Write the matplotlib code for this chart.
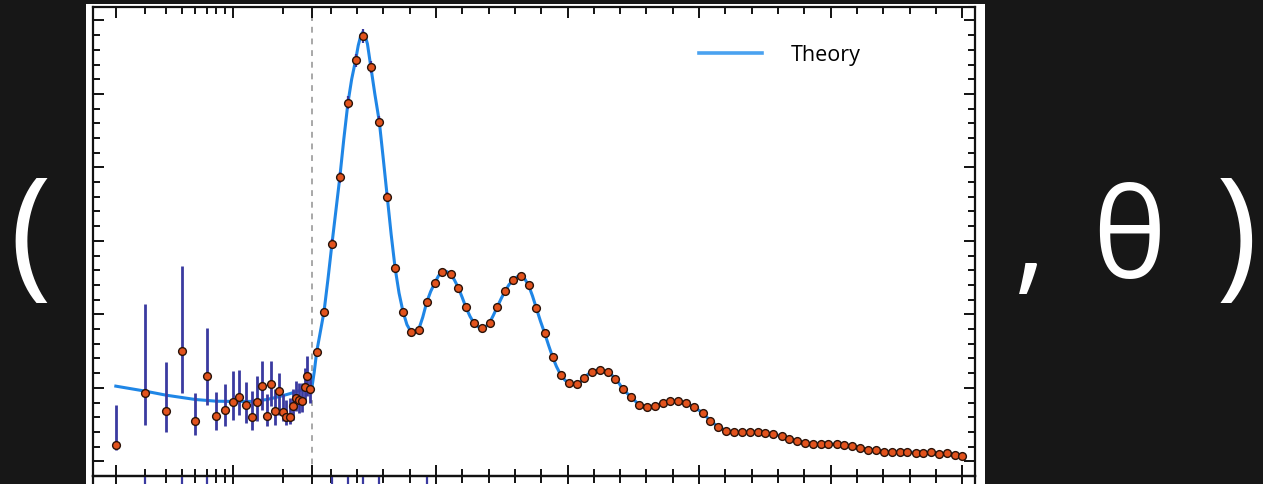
import numpy as np
import matplotlib
matplotlib.use("Agg")
import matplotlib.pyplot as plt
from matplotlib.patches import Rectangle

# ---------------- data ----------------
low_l = [2, 3, 4, 5, 6, 7, 8, 9, 10, 11, 12, 13, 14, 15, 16, 17, 18, 19, 20,
         21, 22, 23, 24, 25, 26, 27, 28, 29]
low_D = [228, 933, 691, 1500, 555, 1155, 619, 701, 810, 873, 764, 600, 810,
         1023, 623, 1046, 682, 955, 669, 605, 605, 750, 855, 828, 818, 1009,
         1159, 987]
low_err_lo = [70, 433, 295, 567, 191, 382, 187, 214, 250, 236, 240, 168, 264,
              318, 145, 296, 182, 318, 123, 105, 100, 182, 173, 168, 150, 213,
              273, 191]
low_err_hi = [532, 1213, 664, 1159, 378, 664, 322, 345, 417, 364, 313, 355,
              349, 341, 287, 318, 296, 250, 241, 236, 259, 228, 236, 241, 251,
              264, 273, 218]

high_l = [47, 75, 105, 135, 166, 195, 224, 253, 285, 315, 345, 375, 405, 434,
          465, 495, 525, 556, 585, 614, 644, 674, 704, 733, 763, 794, 823, 852,
          882, 913, 943, 974, 1005, 1035, 1063, 1092, 1123, 1153, 1182, 1211,
          1242, 1272, 1302, 1332, 1361, 1391, 1421, 1452, 1482, 1513, 1542,
          1572, 1603, 1632, 1662, 1693, 1722, 1752, 1781, 1813, 1842, 1873,
          1902, 1932, 1962, 1991, 2022, 2052, 2082, 2112, 2143, 2172, 2202,
          2232, 2262, 2291, 2322, 2351, 2381, 2412, 2442, 2471, 2497]
high_D = [1487, 2037, 2955, 3864, 4882, 5460, 5787, 5369, 4623, 3600, 2632,
          2037, 1759, 1787, 2164, 2423, 2578, 2546, 2364, 2096, 1887, 1814,
          1887, 2100, 2318, 2464, 2523, 2396, 2082, 1746, 1424, 1178, 1064,
          1050, 1137, 1219, 1241, 1214, 1124, 978, 873, 769, 742, 750, 796,
          818, 818, 787, 737, 660, 555, 469, 419, 396, 396, 400, 400, 387,
          373, 341, 305, 273, 251, 241, 236, 236, 232, 223, 205, 182, 160,
          150, 132, 127, 127, 127, 114, 114, 132, 95, 114, 82, 68]
high_err = [45, 55, 65, 75, 85, 90, 95, 85, 75, 60, 45, 40, 35, 35, 35, 35,
            35, 35, 35, 30, 30, 30, 30, 30, 30, 30, 30, 30, 30, 30, 25, 25,
            25, 25, 25, 25, 25, 25, 25, 25, 20, 20, 20, 20, 20, 20, 20, 20,
            20, 20, 20, 20, 20, 20, 20, 20, 20, 20, 20, 20, 20, 20, 20, 20,
            20, 20, 20, 20, 20, 20, 20, 20, 20, 20, 20, 20, 20, 20, 20, 20,
            20, 20, 20]

theory_l = [2, 3, 4, 6, 8, 10, 13, 16, 19, 22, 25, 28, 30, 38, 47, 60, 75, 90,
            105, 120, 135, 150, 166, 180, 195, 205, 215, 222, 230, 240, 253,
            268, 285, 300, 315, 330, 345, 360, 375, 390, 405, 418, 434, 450,
            465, 480, 495, 510, 525, 540, 556, 570, 585, 600, 614, 630, 644,
            660, 674, 690, 704, 718, 733, 748, 763, 778, 794, 810, 823, 838,
            852, 867, 882, 897, 913, 928, 943, 958, 974, 990, 1005, 1020, 1035,
            1050, 1063, 1078, 1092, 1108, 1123, 1138, 1153, 1168, 1182, 1197,
            1211, 1242, 1272, 1302, 1332, 1361, 1391, 1421, 1452, 1482, 1513,
            1542, 1572, 1603, 1632, 1662, 1693, 1722, 1752, 1781, 1813, 1842,
            1873, 1902, 1932, 1962, 1991, 2022, 2052, 2082, 2112, 2143, 2172,
            2202, 2232, 2262, 2291, 2322, 2351, 2381, 2412, 2442, 2471, 2497]
theory_D = [1023, 955, 900, 841, 818, 815, 815, 840, 880, 920, 960, 1000, 1030,
            1220, 1487, 1740, 2037, 2480, 2955, 3410, 3864, 4380, 4882, 5200,
            5460, 5660, 5800, 5840, 5810, 5680, 5369, 5000, 4623, 4120, 3600,
            3090, 2632, 2290, 2037, 1860, 1765, 1750, 1787, 1960, 2164, 2310,
            2423, 2525, 2578, 2585, 2546, 2470, 2364, 2230, 2096, 1970, 1887,
            1830, 1814, 1835, 1887, 1985, 2100, 2215, 2318, 2405, 2464, 2515,
            2523, 2480, 2396, 2250, 2082, 1910, 1746, 1580, 1424, 1290, 1178,
            1105, 1064, 1052, 1050, 1085, 1137, 1185, 1219, 1238, 1241, 1232,
            1214, 1175, 1124, 1055, 978, 873, 769, 742, 750, 796, 818, 818,
            787, 737, 660, 555, 469, 419, 396, 396, 400, 400, 387, 373, 341,
            305, 273, 251, 241, 236, 236, 232, 223, 205, 182, 160, 150, 132,
            127, 127, 127, 120, 117, 115, 110, 105, 90, 75]

resid_l = [3, 5, 7, 105, 166, 224, 285, 465]
resid_err = [900, 900, 900, 900, 900, 900, 900, 900]

x_major = [2, 10, 30, 500, 1000, 1500, 2000, 2500]
x_minor = [3, 4, 5, 6, 7, 8, 9, 20, 100, 200, 300, 400, 600, 700, 800, 900,
           1100, 1200, 1300, 1400, 1600, 1700, 1800, 1900, 2100, 2200, 2300,
           2400]

# ---------------- styling ----------------
BG = "#171717"
LINE_C = "#1f86e6"
PT_FACE = "#e2531d"
ERR_C = "#3a3aa0"

W, H = 1263, 485
fig = plt.figure(figsize=(W / 100, H / 100), dpi=100, facecolor=BG)

# white picture area
fig.add_artist(Rectangle((86 / W, 0), (985 - 86) / W, (H - 5) / H,
                         transform=fig.transFigure, facecolor="white",
                         edgecolor="none", zorder=0))

LOG_SCALE = 167.0
LIN_SCALE = 0.2633


def fwd(l):
    l = np.asarray(l, dtype=float)
    lc = np.clip(l, 1e-3, None)
    return np.where(l < 30, LOG_SCALE * np.log10(lc / 30.0),
                    LIN_SCALE * (l - 30.0))


def inv(u):
    u = np.asarray(u, dtype=float)
    return np.where(u < 0, 30.0 * 10 ** (np.clip(u, -2000, 0) / LOG_SCALE),
                    30.0 + u / LIN_SCALE)


left, right, top, bottom = 93, 975, 7.5, 477
ax = fig.add_axes([left / W, (H - bottom) / H, (right - left) / W,
                   (bottom - top) / H])
ax.set_facecolor("none")
ax.set_xscale("function", functions=(fwd, inv))
ax.set_xlim(1.46, 2548)
ax.set_ylim(-200, 6190)

ax.axvline(30, color="#a8a8a8", lw=1.4, ls=(0, (3, 3)), zorder=1)
ax.plot(theory_l, theory_D, color=LINE_C, lw=2.2, zorder=2, label="Theory")
ax.errorbar(low_l, low_D, yerr=[low_err_lo, low_err_hi], fmt="o",
            color=ERR_C, ecolor=ERR_C, elinewidth=2.0, capsize=0,
            mfc=PT_FACE, mec="#2a1208", mew=1.0, ms=5.6, zorder=3)
ax.errorbar(high_l, high_D, yerr=high_err, fmt="o",
            color=ERR_C, ecolor=ERR_C, elinewidth=1.6, capsize=0,
            mfc=PT_FACE, mec="#2a1208", mew=1.0, ms=5.6, zorder=3)

ax.set_xticks(x_major)
ax.set_xticks(x_minor, minor=True)
ax.set_yticks(np.arange(0, 6001, 1000))
ax.set_yticks(np.arange(0, 6001, 200), minor=True)
ax.tick_params(which="both", direction="in", top=True, right=True,
               labelbottom=False, labelleft=False, width=1.4, color="#111111")
ax.tick_params(which="major", length=8)
ax.tick_params(which="minor", length=5)
for s in ax.spines.values():
    s.set_linewidth(1.6)
    s.set_color("#111111")

leg = ax.legend(loc="upper left", bbox_to_anchor=(680 / W, 1 - 26 / H),
                bbox_transform=fig.transFigure, frameon=False,
                prop={"family": "Open Sans", "size": 15.5},
                handlelength=2.9, handletextpad=1.35)
for h in leg.get_lines():
    h.set_color("#4aa2f0")
    h.set_linewidth(2.6)

# residual panel (mostly cut off below the image)
ax2 = fig.add_axes([left / W, (H - bottom - 150) / H, (right - left) / W,
                    150 / H])
ax2.set_facecolor("none")
ax2.set_xscale("function", functions=(fwd, inv))
ax2.set_xlim(1.46, 2548)
ax2.set_ylim(-600, 600)
ax2.errorbar(resid_l, [0] * len(resid_l), yerr=resid_err, fmt="none",
             ecolor=ERR_C, elinewidth=1.6)
ax2.set_xticks(x_major)
ax2.set_xticks(x_minor, minor=True)
ax2.set_yticks([])
ax2.tick_params(which="both", direction="in", top=True, bottom=False,
                labelbottom=False, width=1.4, color="#111111")
ax2.tick_params(which="major", length=8)
ax2.tick_params(which="minor", length=5)
for s in ax2.spines.values():
    s.set_linewidth(1.6)
    s.set_color("#111111")

# slide text
tkw = dict(color="white", family=["Open Sans", "DejaVu Sans"],
           va="baseline", ha="center")
fig.text(30 / W, 1 - 280 / H, "(", fontsize=102, **tkw)
fig.text(1030 / W, 1 - 278 / H, ",", fontsize=90, **tkw)
fig.text(1129 / W, 1 - 278 / H, "θ", fontsize=90, **tkw)
fig.text(1237 / W, 1 - 280 / H, ")", fontsize=102, **tkw)

fig.savefig("out.png", dpi=100, facecolor=BG)
